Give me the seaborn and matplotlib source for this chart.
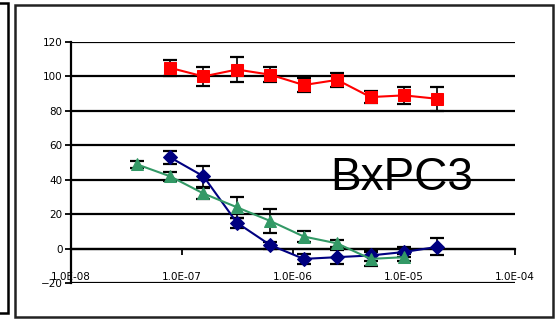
import numpy as np
import pandas as pd
import matplotlib
matplotlib.use('Agg')
import matplotlib.pyplot as plt
import seaborn as sns
from matplotlib.patches import Rectangle

# concentrations (M), 2-fold dilutions
conc_red = [7.8e-8, 1.56e-7, 3.125e-7, 6.25e-7, 1.25e-6, 2.5e-6, 5e-6, 1e-5, 2e-5]
red_mean = [105, 100, 104, 101, 95, 98, 88, 89, 87]
red_err = [4.5, 5.7, 7, 4.5, 4, 4, 3.5, 5, 7]

conc_blue = [7.8e-8, 1.56e-7, 3.125e-7, 6.25e-7, 1.25e-6, 2.5e-6, 5e-6, 1e-5, 2e-5]
blue_mean = [53, 42, 15, 2, -6, -5, -4, -2, 1]
blue_err = [3.8, 6, 3, 2, 3, 4, 3, 3, 5]

conc_green = [3.9e-8, 7.8e-8, 1.56e-7, 3.125e-7, 6.25e-7, 1.25e-6, 2.5e-6, 5e-6, 1e-5]
green_mean = [49, 42, 32, 24, 16, 7, 3, -6, -5]
green_err = [2, 2.5, 3, 6, 7, 3, 2, 4, 2]

x_ticks = [1e-8, 1e-7, 1e-6, 1e-5, 1e-4]
x_labels = ['1.0E-08', '1.0E-07', '1.0E-06', '1.0E-05', '1.0E-04']
y_ticks = [-20, 0, 20, 40, 60, 80, 100, 120]

sns.set_style('white', {'text.color': 'black', 'xtick.color': 'black',
                        'ytick.color': 'black', 'axes.labelcolor': 'black'})
plt.rcParams['font.family'] = ['DejaVu Sans']

fig = plt.figure(figsize=(5.55, 3.19), dpi=100)
ax = fig.add_axes([71 / 555, 1 - 283 / 319, (515 - 71) / 555, (283 - 42) / 319])

series = [
    ('red', conc_red, red_mean, red_err, 's', '#ff0000', 8.5),
    ('blue', conc_blue, blue_mean, blue_err, 'D', '#000080', 7.5),
    ('green', conc_green, green_mean, green_err, '^', '#339966', 9),
]

# gridlines first
for yv in y_ticks:
    ax.axhline(yv, color='black', lw=1.6, zorder=1)

for name, xs, ys, es, mk, col, ms in series:
    df = pd.DataFrame({'conc': xs, 'val': ys})
    ax.errorbar(xs, ys, yerr=es, fmt='none', ecolor='black', elinewidth=1.2,
                capsize=5, capthick=1.6, zorder=2)
    sns.lineplot(data=df, x='conc', y='val', ax=ax, color=col, lw=1.5,
                 marker=mk, markersize=ms, markeredgecolor=col, zorder=3)

ax.set_xscale('log')
ax.set_xlim(1e-8, 1e-4)
ax.set_ylim(-20, 120)
ax.set_xticks(x_ticks)
ax.set_xticklabels(x_labels)
ax.minorticks_off()
ax.set_yticks(y_ticks)
ax.set_xlabel('')
ax.set_ylabel('')

ax.spines['top'].set_visible(False)
ax.spines['right'].set_visible(False)
ax.spines['bottom'].set_position(('data', 0))
ax.spines['left'].set_linewidth(1.6)
ax.spines['bottom'].set_linewidth(1.6)
ax.spines['left'].set_color('black')
ax.spines['bottom'].set_color('black')
ax.tick_params(axis='y', direction='out', length=4, width=1.3, labelsize=7.5,
               pad=2, left=True, colors='black')
ax.tick_params(axis='x', direction='out', length=4, width=1.3, labelsize=7.5,
               pad=13, bottom=True, colors='black')

ax.text(9.5e-6, 41, 'BxPC3', fontsize=33, family=['Liberation Sans', 'DejaVu Sans'],
        color='black', ha='center', va='center', zorder=5)

# outer frames
fig.patches.append(Rectangle((-5 / 555, 1 - 313 / 319), 12.5 / 555, 310 / 319,
                             transform=fig.transFigure, fill=False,
                             edgecolor='black', lw=1.8))
fig.patches.append(Rectangle((14.5 / 555, 1 - 317 / 319), 538 / 555, 312 / 319,
                             transform=fig.transFigure, fill=False,
                             edgecolor='#222222', lw=1.8))

fig.savefig('out.png', dpi=100)
